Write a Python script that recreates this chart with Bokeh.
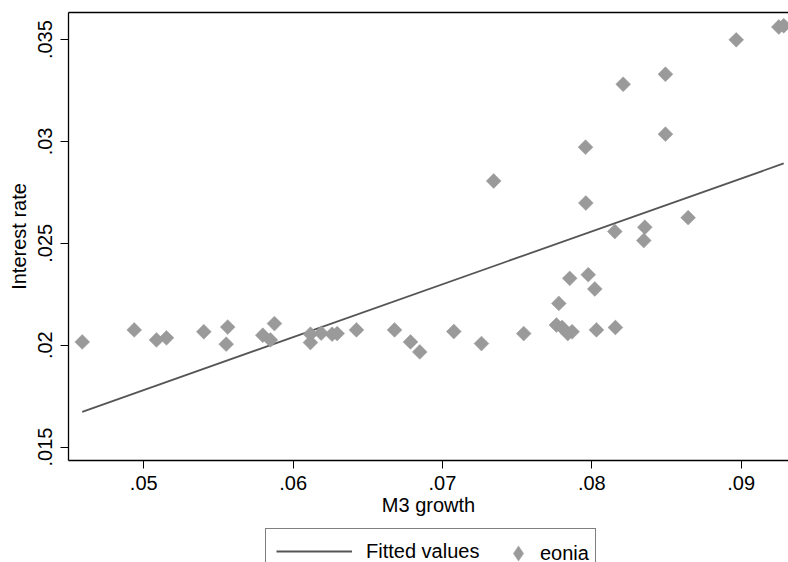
import numpy as np
from bokeh.plotting import figure
from bokeh.layouts import column
from bokeh.models import (Range1d, FixedTicker, Legend, LegendItem, ColumnDataSource, LinearAxis)
from bokeh.embed import file_html
from bokeh.resources import INLINE

# ---- data ----
m3_growth = [0.04588, 0.04936, 0.05085, 0.05152, 0.05402, 0.05562, 0.05552, 0.05797,
             0.05875, 0.05848, 0.06116, 0.06116, 0.06188, 0.06261, 0.06295, 0.06424,
             0.06679, 0.06786, 0.06848, 0.07076, 0.07261, 0.07343, 0.07544, 0.07763,
             0.07801, 0.07839, 0.07868, 0.07779, 0.07852, 0.07976, 0.08020, 0.08031,
             0.08158, 0.07960, 0.07958, 0.08154, 0.08355, 0.08348, 0.08645, 0.08493,
             0.08493, 0.08210, 0.08967, 0.09252, 0.09285]
eonia = [0.02016, 0.02075, 0.02026, 0.02036, 0.02066, 0.02089, 0.02005, 0.02049,
         0.02106, 0.02026, 0.02054, 0.02013, 0.02059, 0.02054, 0.02057, 0.02075,
         0.02075, 0.02016, 0.01967, 0.02067, 0.02008, 0.02806, 0.02057, 0.02099,
         0.02087, 0.02057, 0.02066, 0.02205, 0.02328, 0.02346, 0.02276, 0.02075,
         0.02087, 0.02698, 0.02972, 0.02558, 0.02579, 0.02514, 0.02626, 0.03330,
         0.03036, 0.03281, 0.03499, 0.03562, 0.03568]
fit_x = [0.04588, 0.09285]
fit_y = [0.01673, 0.02892]

x_ticks = [0.05, 0.06, 0.07, 0.08, 0.09]
x_tick_labels = [".05", ".06", ".07", ".08", ".09"]
y_ticks = [0.015, 0.02, 0.025, 0.03, 0.035]
y_tick_labels = [".015", ".02", ".025", ".03", ".035"]

FONT = "Liberation Sans"
FS = "20px"
LINE_COLOR = "#555555"
MARK_COLOR = "#9a9a9a"

W = 788
H_MAIN = 526
H_LEG = 36

p = figure(width=W, height=H_MAIN, output_backend="svg", toolbar_location=None,
           x_range=Range1d(0.04496, 0.09317), y_range=Range1d(0.01434, 0.03633),
           min_border_left=68, min_border_right=0, min_border_top=12, min_border_bottom=66,
           background_fill_color="white", border_fill_color="white")
p.grid.visible = False
p.outline_line_color = None

bottom_ax = p.below[0]
left_ax = p.left[0]

src = ColumnDataSource(dict(x=m3_growth, y=eonia))
fit_src = ColumnDataSource(dict(x=fit_x, y=fit_y))
line_r = p.line("x", "y", source=fit_src, line_color=LINE_COLOR, line_width=1.8)
sc_r = p.scatter("x", "y", source=src, marker="square", angle=np.pi / 4, size=10.5,
                 fill_color=MARK_COLOR, line_color=MARK_COLOR, line_width=0.5)

# top frame line (plot region border)
top_ax = LinearAxis(ticker=FixedTicker(ticks=[]), axis_line_color="black", axis_line_width=1.3,
                    major_tick_line_color=None, minor_tick_line_color=None,
                    major_label_text_font_size="0px")
p.add_layout(top_ax, "above")

for ax, ticks, labels in ((bottom_ax, x_ticks, x_tick_labels), (left_ax, y_ticks, y_tick_labels)):
    ax.ticker = FixedTicker(ticks=ticks)
    ax.major_label_overrides = {t: l for t, l in zip(ticks, labels)}
    ax.minor_tick_line_color = None
    ax.major_tick_out = 8
    ax.major_tick_in = 0
    ax.axis_line_color = "black"
    ax.axis_line_width = 1.3
    ax.major_tick_line_color = "black"
    ax.major_tick_line_width = 1
    ax.major_label_text_font = FONT
    ax.major_label_text_font_size = FS
    ax.major_label_text_color = "black"
    ax.axis_label_text_font = FONT
    ax.axis_label_text_font_size = FS
    ax.axis_label_text_font_style = "normal"
    ax.axis_label_text_color = "black"

bottom_ax.axis_label = "M3 growth"
bottom_ax.major_label_standoff = 7
bottom_ax.axis_label_standoff = 1
left_ax.axis_label = "Interest rate"
left_ax.major_label_orientation = "vertical"
left_ax.major_label_standoff = 8
left_ax.axis_label_standoff = 6

# ---- legend strip below the plot (same series, drawn outside this strip's visible range) ----
p2 = figure(width=W, height=H_LEG, output_backend="svg", toolbar_location=None,
            x_axis_location=None, y_axis_location=None,
            x_range=Range1d(0.04496, 0.09317), y_range=Range1d(1.0, 2.0),
            min_border_left=0, min_border_right=0, min_border_top=0, min_border_bottom=0,
            background_fill_color="white", border_fill_color="white")
p2.grid.visible = False
p2.outline_line_color = None
leg_line = p2.line("x", "y", source=fit_src, line_color=LINE_COLOR, line_width=1.8)
leg_mark = p2.scatter("x", "y", source=src, marker="diamond", size=15,
                      fill_color=MARK_COLOR, line_color=MARK_COLOR, line_width=0.5)

leg_a = Legend(items=[LegendItem(label="Fitted values", renderers=[leg_line])],
               location=(197, -12), orientation="horizontal",
               glyph_width=76, glyph_height=24, label_standoff=14, label_width=219,
               padding=10, margin=0, spacing=0,
               border_line_color="black", border_line_width=1,
               background_fill_color="white", background_fill_alpha=1,
               label_text_font=FONT, label_text_font_size=FS, label_text_color="black")
leg_b = Legend(items=[LegendItem(label="eonia", renderers=[leg_mark])],
               location=(431, -10), orientation="horizontal",
               glyph_width=38, glyph_height=38, label_standoff=3,
               padding=0, margin=0, spacing=0,
               border_line_color=None, background_fill_alpha=0,
               label_text_font=FONT, label_text_font_size=FS, label_text_color="black")
p2.add_layout(leg_a, "center")
p2.add_layout(leg_b, "center")

layout = column(p, p2, spacing=0)
open("out.html", "w").write(file_html(layout, INLINE))
